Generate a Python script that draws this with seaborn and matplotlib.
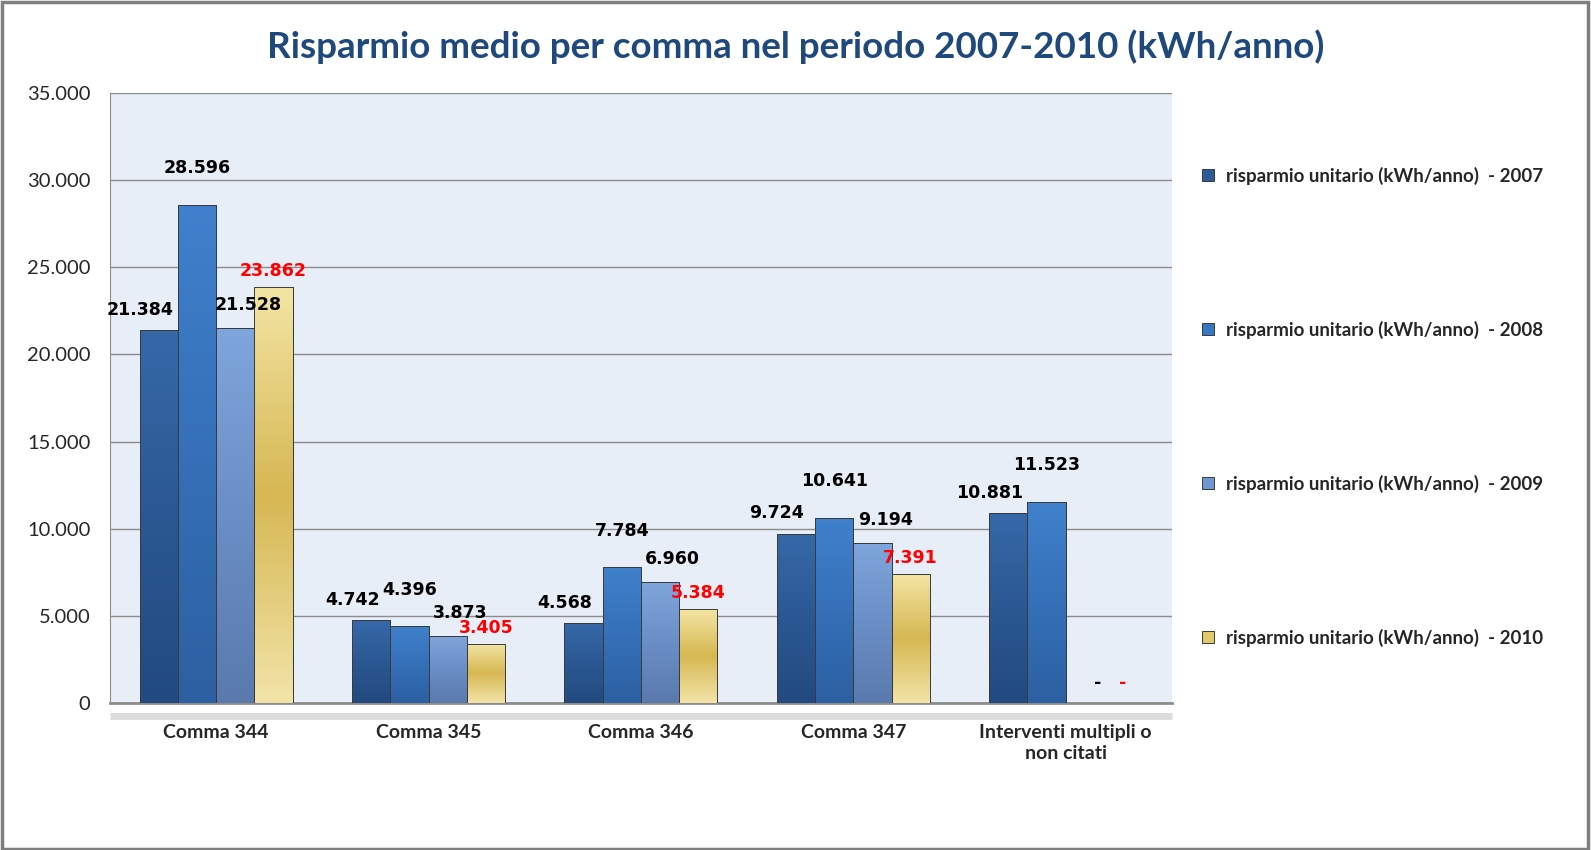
import numpy as np
import pandas as pd
import seaborn as sns
import matplotlib.pyplot as plt
from matplotlib.patches import Rectangle
from matplotlib.colors import LinearSegmentedColormap

# --- data ---
categories = ["Comma 344", "Comma 345", "Comma 346", "Comma 347",
              "Interventi multipli o\nnon citati"]
years = ["2007", "2008", "2009", "2010"]
val_2007 = [21384, 4742, 4568, 9724, 10881]
val_2008 = [28596, 4396, 7784, 10641, 11523]
val_2009 = [21528, 3873, 6960, 9194, None]
val_2010 = [23862, 3405, 5384, 7391, None]

colors = ["#2D5C99", "#3A77C2", "#7097CF", "#E2C96C"]
# top -> bottom shading of each series
shades = [["#3668A8", "#2B5892", "#224A80"],
          ["#4080CC", "#3570B8", "#2C60A2"],
          ["#7FA6DC", "#6A8EC6", "#5A7AAE"],
          ["#F3E5A4", "#D6B752", "#F2E4A8"]]
label_colors = ["black", "black", "black", "red"]
# label nudges per series (bar widths, points)
label_dx = [-0.5, 0.0, 0.33, 0.0]
label_dy = [8, 20, 10, 5]


def fmt(v):
    if v is None or pd.isna(v):
        return "-"
    return f"{v:,.0f}".replace(",", ".")


def shade_bar(ax, bar, stops):
    cmap = LinearSegmentedColormap.from_list("s", stops)
    x0, w, h = bar.get_x(), bar.get_width(), bar.get_height()
    if h <= 0:
        return
    grad = np.linspace(0, 1, 200).reshape(-1, 1)
    im = ax.imshow(grad, cmap=cmap, extent=[x0, x0 + w, 0, h], origin="upper",
                   aspect="auto", zorder=3.1, interpolation="bicubic")
    im.set_clip_path(bar)


def main():
    rows = []
    for year, vals in zip(years, [val_2007, val_2008, val_2009, val_2010]):
        for cat, v in zip(categories, vals):
            rows.append({"comma": cat, "anno": year,
                         "value": np.nan if v is None else v})
    df = pd.DataFrame(rows)
    df["plot_value"] = df["value"].fillna(0)

    sns.set_style("white")
    plt.rcParams["font.family"] = ["Lato", "DejaVu Sans"]

    fig = plt.figure(figsize=(15.91, 8.5), dpi=100)
    ax = fig.add_axes([0.0691, 0.1729, 0.6675, 0.7176])
    ax.set_facecolor("#E8EEF7")

    sns.barplot(data=df, x="comma", y="plot_value", hue="anno",
                palette=colors, width=0.72, gap=0, saturation=1,
                edgecolor="#3a3a3a", linewidth=0.7, ax=ax, zorder=3)

    # data labels + shading
    for i, cont in enumerate(ax.containers):
        year = years[i]
        sub = df[df["anno"] == year].reset_index(drop=True)
        for j, bar in enumerate(cont):
            v = sub.loc[j, "value"]
            if pd.isna(v):
                bar.set_edgecolor("none")
            else:
                shade_bar(ax, bar, shades[i])
                # outline on top of the shading
                ax.add_patch(Rectangle((bar.get_x(), 0), bar.get_width(), bar.get_height(),
                                       fill=False, edgecolor="#3a3a3a", linewidth=0.7,
                                       zorder=3.2))
            w = bar.get_width()
            x = bar.get_x() + w / 2 + label_dx[i] * w
            y = bar.get_height()
            dy = label_dy[i] if not pd.isna(v) else 8
            ax.annotate(fmt(v), (x, y), xytext=(0, dy), textcoords="offset points",
                        ha="center", va="bottom", fontsize=12.5, fontweight="bold",
                        color=label_colors[i], family=["DejaVu Sans"], zorder=5)

    ax.set_xlim(-0.5, 4.5)
    ax.set_ylim(0, 35000)
    ax.set_yticks(np.arange(0, 35001, 5000))
    ax.set_yticklabels([fmt(t) for t in np.arange(0, 35001, 5000)])
    ax.yaxis.grid(True, color="#8c8c8c", linewidth=1)
    ax.set_axisbelow(True)
    ax.tick_params(axis="y", length=0, pad=14, labelsize=14.5)
    ax.tick_params(axis="x", length=0, pad=15, labelsize=14)
    for lab in ax.get_xticklabels():
        lab.set_fontweight("bold")
        lab.set_linespacing(1.3)
    ax.set_xlabel("")
    ax.set_ylabel("")
    for s in ["top", "right"]:
        ax.spines[s].set_visible(False)
    ax.spines["left"].set_color("#8c8c8c")
    ax.spines["bottom"].set_color("#8c8c8c")
    ax.spines["bottom"].set_linewidth(2)

    # soft shadow under the baseline
    ax.plot([0, 1], [-0.022, -0.022], transform=ax.transAxes, color="#dcdcdc",
            linewidth=5, clip_on=False, solid_capstyle="butt")

    # legend
    handles, _ = ax.get_legend_handles_labels()
    ax.legend(handles, [f"risparmio unitario (kWh/anno)  - {y}" for y in years],
              loc="upper left", bbox_to_anchor=(0.745, 0.824),
              bbox_transform=fig.transFigure, frameon=False,
              prop={"size": 13.5, "weight": "bold"}, labelspacing=7.25,
              handlelength=0.65, handleheight=0.65, handletextpad=0.6)

    fig.suptitle("Risparmio medio per comma nel periodo 2007-2010 (kWh/anno)",
                 x=0.5, y=0.965, fontsize=26.5, fontweight="bold", color="#1F497D")

    fig.patches.append(Rectangle((0.001, 0.001), 0.997, 0.997, transform=fig.transFigure,
                                 fill=False, edgecolor="#7f7f7f", linewidth=2.5))

    fig.savefig("out.png", dpi=100)


if __name__ == "__main__":
    main()
